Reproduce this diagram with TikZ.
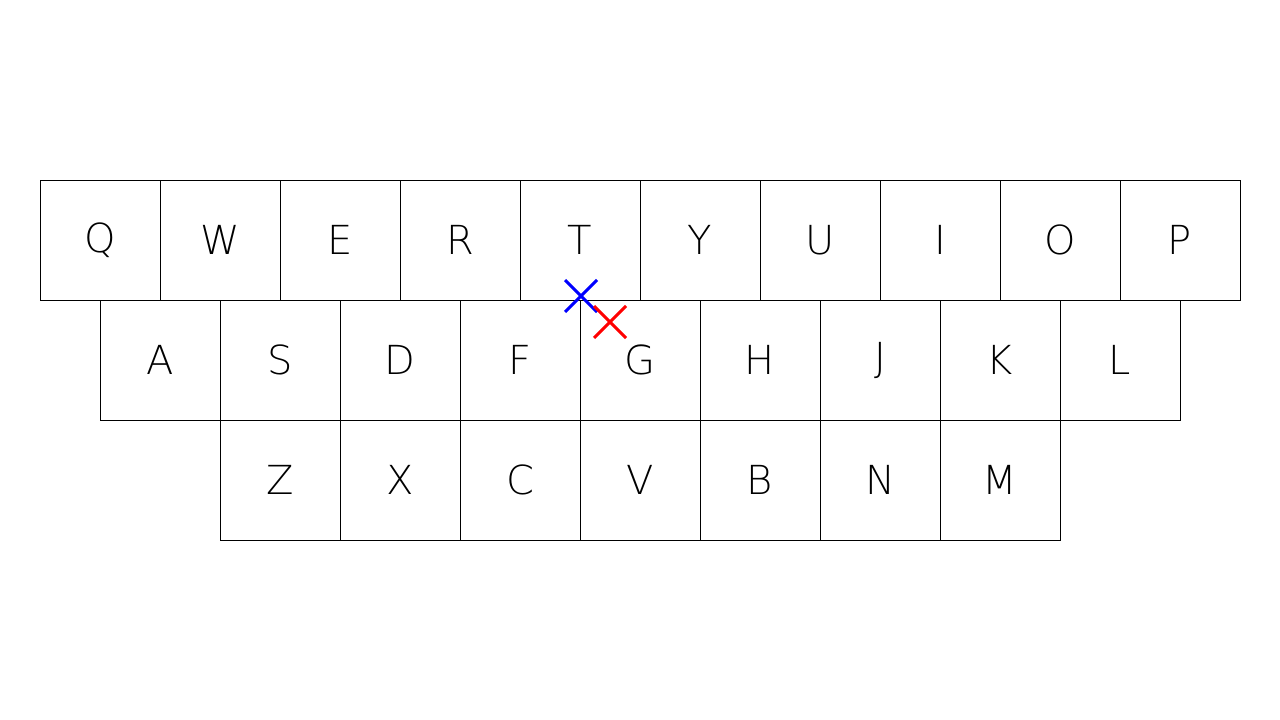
\documentclass[tikz,border=0pt]{standalone}
\usepackage{fontspec}
\setmainfont{DejaVu Sans ExtraLight}
\usetikzlibrary{shapes.misc}

\tikzset{
  keycap/.style={draw, line width=1pt, minimum size=120pt, inner sep=0pt,
    font=\fontsize{40}{40}\selectfont},
  mark blue/.style={cross out, draw=blue, line width=3pt, minimum size=29pt, inner sep=0pt},
  mark red/.style={cross out, draw=red, line width=3pt, minimum size=29pt, inner sep=0pt}
}

\begin{document}
\begin{tikzpicture}[x=1pt, y=-1pt]
  \useasboundingbox (0,0) rectangle (1280,720);

  % top row
  \foreach \k [count=\i from 0] in {Q,W,E,R,T,Y,U,I,O,P}
    \node[keycap] (key\k) at (100+120*\i, 240) {\k};
  % home row
  \foreach \k [count=\i from 0] in {A,S,D,F,G,H,J,K,L}
    \node[keycap] (key\k) at (160+120*\i, 360) {\k};
  % bottom row
  \foreach \k [count=\i from 0] in {Z,X,C,V,B,N,M}
    \node[keycap] (key\k) at (280+120*\i, 480) {\k};

  \node[mark blue] (touch) at (581, 296) {};
  \node[mark red] (target) at (610, 322) {};
\end{tikzpicture}
\end{document}
